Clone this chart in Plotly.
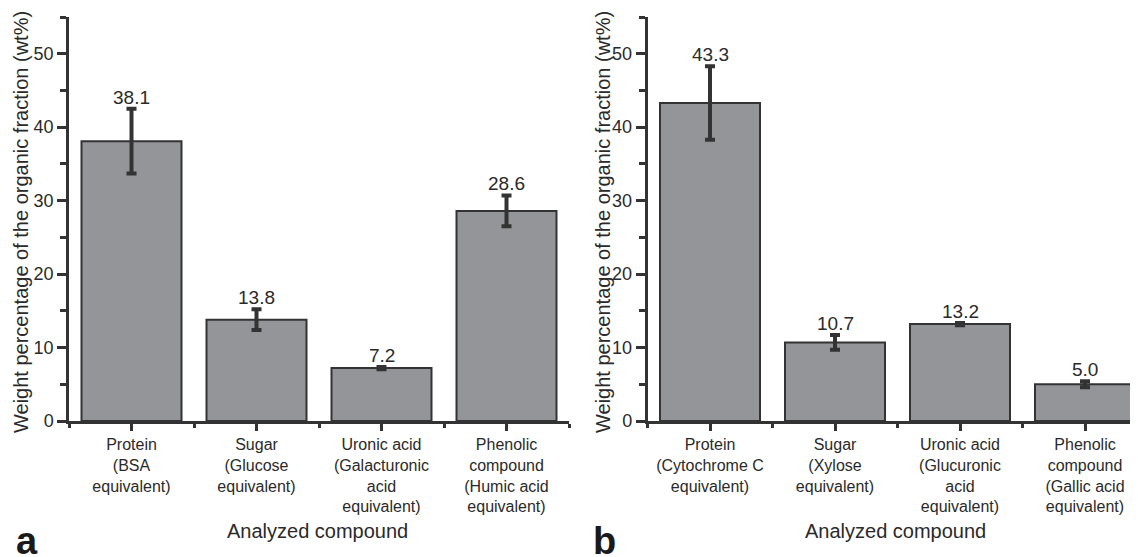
import plotly.graph_objects as go

# ---- data ----
cats_a = ["Protein<br>(BSA<br>equivalent)", "Sugar<br>(Glucose<br>equivalent)",
          "Uronic acid<br>(Galacturonic<br>acid<br>equivalent)",
          "Phenolic<br>compound<br>(Humic acid<br>equivalent)"]
vals_a = [38.1, 13.8, 7.2, 28.6]
errs_a = [4.4, 1.4, 0.15, 2.1]

cats_b = ["Protein<br>(Cytochrome C<br>equivalent)", "Sugar<br>(Xylose<br>equivalent)",
          "Uronic acid<br>(Glucuronic<br>acid<br>equivalent)",
          "Phenolic<br>compound<br>(Gallic acid<br>equivalent)"]
vals_b = [43.3, 10.7, 13.2, 5.0]
errs_b = [5.0, 1.0, 0.15, 0.4]

y_title = "Weight percentage of the organic fraction (wt%)"
x_title = "Analyzed compound"
y_ticks = [0, 10, 20, 30, 40, 50]

# ---- style ----
# the page body has an 8px margin, so the figure is 8px smaller and all
# reference pixel positions are shifted by OFF
OFF = 8
W, H = 1138 - OFF, 557 - OFF
FONT = "Liberation Sans, Arial, sans-serif"
TXT = "#2a2a2a"
DARK = "#333333"
BAR = "#939598"

def px_x(p):
    return (p - OFF) / W

def px_y(p):
    return 1 - (p - OFF) / H

fig = go.Figure()
pos_a = list(range(len(vals_a)))
pos_b = list(range(len(vals_b)))

fig.add_trace(go.Bar(x=pos_a, y=vals_a, width=0.8, xaxis="x", yaxis="y",
                     marker=dict(color=BAR, line=dict(color=DARK, width=2)),
                     error_y=dict(type="data", array=errs_a, color=DARK, thickness=4, width=5),
                     showlegend=False, hoverinfo="skip"))
fig.add_trace(go.Bar(x=pos_b, y=vals_b, width=0.8, xaxis="x2", yaxis="y2",
                     marker=dict(color=BAR, line=dict(color=DARK, width=2)),
                     error_y=dict(type="data", array=errs_b, color=DARK, thickness=4, width=5),
                     showlegend=False, hoverinfo="skip"))

ydom = [px_y(421), px_y(17)]

def xax(domain, ticktext, rng, anchor):
    return dict(domain=domain, range=rng, anchor=anchor, automargin=False,
                tickvals=list(range(len(ticktext))), ticktext=ticktext,
                showline=True, linecolor=DARK, linewidth=2.5, ticks="outside", ticklen=7,
                tickwidth=2.5, tickcolor=DARK, showgrid=False, zeroline=False,
                tickfont=dict(family=FONT, size=16, color=TXT),
                minor=dict(tick0=-0.5, dtick=1, ticks="outside", ticklen=4, tickwidth=2.5,
                           tickcolor=DARK, showgrid=False),
                fixedrange=True)

def yax(anchor):
    return dict(domain=ydom, range=[0, 55], tickvals=y_ticks, anchor=anchor, automargin=False,
                showline=True, linecolor=DARK, linewidth=2.5, ticks="outside", ticklen=9,
                tickwidth=2.5, tickcolor=DARK, showgrid=False, zeroline=False,
                tickfont=dict(family=FONT, size=18, color=TXT),
                minor=dict(dtick=5, ticks="outside", ticklen=6, tickwidth=2.5,
                           tickcolor=DARK, showgrid=False),
                fixedrange=True)

annotations = []
for xs, vs, es, xr, yr in [(pos_a, vals_a, errs_a, "x", "y"), (pos_b, vals_b, errs_b, "x2", "y2")]:
    for xi, v, e in zip(xs, vs, es):
        annotations.append(dict(x=xi, y=v + e, xref=xr, yref=yr, text=f"{v:.1f}",
                                showarrow=False, yanchor="bottom", yshift=-1,
                                font=dict(family=FONT, size=19, color=TXT)))

for xc in [21, 603]:
    annotations.append(dict(x=px_x(xc), y=px_y(222), xref="paper", yref="paper", text=y_title,
                            textangle=-90, showarrow=False, xanchor="center", yanchor="middle",
                            font=dict(family=FONT, size=20, color=TXT)))
for xc in [317, 895.5]:
    annotations.append(dict(x=px_x(xc), y=px_y(531), xref="paper", yref="paper", text=x_title,
                            showarrow=False, xanchor="center", yanchor="middle",
                            font=dict(family=FONT, size=20, color=TXT)))
for xl, lab in [(14, "a"), (591, "b")]:
    annotations.append(dict(x=px_x(xl), y=px_y(541), xref="paper", yref="paper", text=f"<b>{lab}</b>",
                            showarrow=False, xanchor="left", yanchor="middle",
                            font=dict(family=FONT, size=38, color="#1a1a1a")))

fig.update_layout(
    template="none",
    width=W, height=H, margin=dict(l=0, r=0, t=0, b=0, autoexpand=False),
    paper_bgcolor="white", plot_bgcolor="white",
    xaxis=xax([px_x(69), px_x(569)], cats_a, [-0.5, 3.5], "y"),
    yaxis=yax("x"),
    xaxis2=xax([px_x(647.5), 1.0], cats_b, [-0.5, 3.424], "y2"),
    yaxis2=yax("x2"),
    annotations=annotations,
    bargap=0.2,
)

fig.write_html("out.html")
